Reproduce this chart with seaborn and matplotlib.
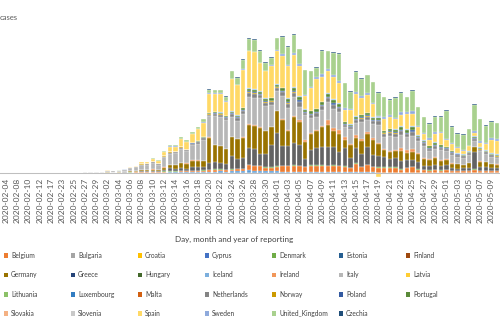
import numpy as np
import pandas as pd
import matplotlib
matplotlib.use("Agg")
import matplotlib.pyplot as plt
from matplotlib.patches import Patch
import seaborn as sns

# ---------------- categories ----------------
early_dates = ["2020-02-04", "2020-02-06", "2020-02-08", "2020-02-09", "2020-02-10",
               "2020-02-11", "2020-02-12", "2020-02-14", "2020-02-17", "2020-02-20"]
dates = early_dates + [d.strftime("%Y-%m-%d") for d in pd.date_range("2020-02-23", "2020-05-10")]

# ---------------- daily cases per country ----------------
austria = [0,0,0,0,0,0,0,0,0,0,0,0,0,2,3,5,5,4,8,6,10,20,
           90,90,90,120,120,120,150,180,240,300,300,360,300,360,450,450,540,450,600,540,600,900,750,750,600,540,540,450,450,450,300,300,300,300,300,240,240,240,240,180,240,210,210,180,150,150,150,150,150,120,120,90,90,90,90,90,90,60,60,60,60,90,60,60,60,60]
belgium = [0,0,0,0,0,0,0,0,0,0,0,0,0,0,0,0,0,2,6,5,10,20,
           60,90,90,120,120,90,180,240,180,240,180,240,300,360,450,540,450,450,450,540,600,1500,1350,1350,1050,1050,1350,1650,1650,1800,1800,1500,1950,1950,1950,1800,1950,1800,1650,1200,2550,1650,2100,1650,1500,1500,1500,1500,900,1350,1650,900,750,600,750,600,750,600,450,450,450,900,600,450,450,450]
denmark = [0,0,0,0,0,0,0,0,0,0,0,0,0,0,0,1,0,2,1,5,4,3,
           10,5,20,25,30,60,250,150,60,150,90,120,90,120,90,90,90,90,90,90,90,150,150,120,120,120,150,150,150,150,120,90,90,90,120,120,120,120,
           90,90,90,90,90,90,90,90,90,90,90,90,90,90,90,90,90,90,90,90,90,90,90,90,90,90,90,90]
france = [0,1,0,1,0,0,0,0,0,0,0,0,2,2,20,40,40,30,100,50,80,130,
          180,210,300,300,360,300,450,840,840,900,750,1200,1050,1050,2100,2100,1950,1800,3900,3000,3300,5100,5100,3600,3900,6600,9900,6000,6000,6600,6300,2400,4500,5100,5400,5700,5400,4200,5400,3000,4500,3900,5400,3600,3300,3000,2400,2700,2400,2400,2100,2100,1200,1200,1500,1200,1500,900,600,900,900,5100,1200,1200,900,900]
germany = [2,0,0,1,0,1,0,0,0,0,0,0,2,10,30,30,50,50,60,40,60,100,
           180,210,360,300,420,300,600,1050,1200,1350,1500,1800,1950,1650,7500,5100,5100,4350,5700,6000,6000,6900,6900,7800,6900,5400,6600,7800,4500,7800,6900,5100,4950,5100,6000,6600,4800,5400,2400,3900,3000,3900,3900,4500,3600,2100,2100,2100,3000,2100,2400,2400,1950,1950,2100,1500,1500,1200,1500,900,1500,1500,1500,1500,1200,1050]
ireland = [0,0,0,0,0,0,0,0,0,0,0,0,0,0,0,0,0,0,0,0,0,1,
           5,5,10,10,20,10,30,40,30,60,60,90,120,90,120,120,120,120,120,120,150,210,210,210,180,180,210,300,300,300,600,450,240,450,300,1350,900,1050,900,300,900,450,600,450,450,450,360,360,900,900,900,450,300,300,300,300,240,240,150,150,150,150,150,150,150,150]
italy = [0,0,0,0,0,0,0,0,0,0,60,80,95,90,130,200,240,300,560,400,460,650,
         900,1050,1500,1650,1950,1650,3000,3300,3450,4200,3600,4500,4950,6300,6300,8700,8700,8700,6000,5400,6900,8100,8100,8700,7500,6600,6000,6900,6600,5700,3900,7500,4350,3900,4950,5400,5700,5400,3000,4500,3600,5100,3600,4200,5400,3600,4500,3900,3900,3900,3900,3600,3750,2400,2400,3000,2400,2400,2100,2100,2400,1800,3000,2400,2100,1950]
netherlands = [0,0,0,0,0,0,0,0,0,0,0,0,0,0,0,0,0,5,10,10,20,40,
               90,90,180,150,180,180,210,300,240,390,300,360,450,450,540,600,600,600,750,750,900,1200,1200,750,900,900,900,1050,1200,1350,1350,600,1050,1050,1050,1200,1200,1200,750,600,1050,1050,1050,900,1050,900,1050,1050,1200,900,1200,750,750,600,900,750,600,450,450,360,360,600,450,360,360,300]
norway = [0,0,0,0,0,0,0,0,0,0,0,0,0,0,0,0,0,0,5,5,10,20,
          30,30,90,90,90,60,90,90,60,90,120,150,150,180,150,120,120,90,150,150,150,210,210,150,150,120,120,150,150,150,150,90,120,120,120,120,150,150,120,90,120,120,120,120,90,90,90,90,90,90,90,60,
          60,60,60,60,60,60,60,60,60,60,60,60,60,60]
poland = [0,0,0,0,0,0,0,0,0,0,0,0,0,0,0,0,0,0,0,0,0,0,
          0,0,1,5,5,10,20,15,25,20,30,60,90,90,120,120,120,120,150,150,180,240,240,180,180,180,180,240,300,300,360,240,240,300,300,360,450,360,240,180,300,300,300,300,300,240,300,300,360,300,360,240,240,240,300,240,180,180,150,150,150,240,180,180,180,180]
portugal = [0,0,0,0,0,0,0,0,0,0,0,0,0,0,0,0,0,0,0,0,0,0,
            0,0,0,2,5,8,30,60,60,90,90,120,150,180,240,300,300,300,450,450,600,750,750,750,750,750,600,750,900,900,900,750,750,750,750,900,900,900,450,450,600,600,600,600,600,450,600,750,900,750,900,450,450,450,600,450,360,300,240,240,240,360,300,240,240,240]
romania = [0,0,0,0,0,0,0,0,0,0,0,0,0,0,0,0,0,0,0,0,0,0,
           0,0,0,0,2,5,10,15,20,30,30,40,50,60,90,90,90,90,120,120,150,180,180,150,150,150,150,210,240,300,300,120,150,180,210,240,300,300,150,120,210,180,180,180,180,180,180,180,300,240,300,210,180,150,240,180,150,150,120,120,120,150,150,150,150,150]
spain = [0,0,0,0,0,0,0,0,0,0,0,0,2,6,10,20,30,20,40,60,60,60,
         240,270,510,450,750,750,1200,1650,1500,2250,2250,2550,3450,4200,5700,5400,5550,4200,9600,9000,11400,11100,11100,8400,8100,9600,9900,9600,9600,9600,9000,3900,6900,9000,7500,6600,6600,6000,3600,4350,6600,5100,5400,3900,-1200,3600,3600,3000,3300,4500,3600,2400,1950,1650,2250,3600,2100,2100,1500,1050,1500,900,1200,1950,3900,3900]
sweden = [0,0,0,0,0,0,0,0,0,0,0,0,0,0,0,0,0,0,5,5,10,20,
          60,60,60,60,120,90,150,180,180,150,120,150,150,150,150,150,150,150,150,150,180,210,210,210,210,210,240,450,360,750,600,450,360,600,900,450,600,600,450,390,600,360,450,360,390,450,360,450,750,600,900,300,300,750,750,300,300,240,240,210,240,750,600,240,600,600]
united_kingdom = [0,0,0,0,0,0,0,0,0,0,0,0,0,0,0,0,0,0,20,10,30,30,
                  60,90,120,150,180,150,240,300,360,450,450,540,600,900,1050,900,900,1350,2250,2160,2850,3450,3600,3600,2400,2250,3600,5250,5400,5400,4500,7320,4650,2760,6900,5400,6750,8100,7500,5100,6000,5250,5310,6210,7050,5940,4770,5940,5910,4500,6240,5700,4680,4290,4620,4500,8430,4980,4050,4710,4890,7800,6600,5220,5010,4800]
czechia = [0,0,0,0,0,0,0,0,0,0,0,0,0,0,0,0,0,0,0,0,0,0,
           0,5,10,10,15,10,20,30,40,90,90,150,90,120,150,120,120,240,120,90,150,300,150,180,210,150,210,150,300,150,120,90,150,150,150,120,240,180,90,150,
           150,150,150,150,150,150,150,150,150,150,150,150,150,150,150,150,150,150,150,150,150,150,150,150,150,120]

# stacking order (bottom -> top), as in the source chart
series = {
    "Austria": austria, "Belgium": belgium, "Denmark": denmark, "France": france,
    "Germany": germany, "Ireland": ireland, "Italy": italy, "Netherlands": netherlands,
    "Norway": norway, "Poland": poland, "Portugal": portugal, "Romania": romania,
    "Spain": spain, "Sweden": sweden, "United_Kingdom": united_kingdom, "Czechia": czechia,
}
for k, v in series.items():
    if len(v) != len(dates):
        raise ValueError(f"{k}: {len(v)} values, expected {len(dates)}")

legend_names = ["Belgium", "Bulgaria", "Croatia", "Cyprus", "Denmark", "Estonia", "Finland",
                "Germany", "Greece", "Hungary", "Iceland", "Ireland", "Italy", "Latvia",
                "Lithuania", "Luxembourg", "Malta", "Netherlands", "Norway", "Poland", "Portugal",
                "Slovakia", "Slovenia", "Spain", "Sweden", "United_Kingdom", "Czechia"]

colors = {
    "Austria": "#5B9BD5", "Belgium": "#ED7D31", "Bulgaria": "#A5A5A5", "Croatia": "#FFC000",
    "Cyprus": "#4472C4", "Denmark": "#70AD47", "Estonia": "#255E91", "Finland": "#9E480E",
    "France": "#636363", "Germany": "#997300", "Greece": "#264478", "Hungary": "#43682B",
    "Iceland": "#7CAFDD", "Ireland": "#F1975A", "Italy": "#B7B7B7", "Latvia": "#FFCD33",
    "Lithuania": "#8CC168", "Luxembourg": "#327DC2", "Malta": "#D26012", "Netherlands": "#848484",
    "Norway": "#CC9A00", "Poland": "#335AA1", "Portugal": "#5A8A39", "Romania": "#9DC3E6",
    "Slovakia": "#F4B183", "Slovenia": "#C9C9C9", "Spain": "#FFD966", "Sweden": "#8FAADC",
    "United_Kingdom": "#A9D18E", "Czechia": "#1F4E79",
}

# ---------------- style ----------------
sns.set_theme(style="white")
plt.rcParams["font.family"] = ["Lato", "DejaVu Sans"]
text_col = "#595959"

W, H = 500, 327
fig = plt.figure(figsize=(W / 100, H / 100), dpi=100)
ax_bottom_px, ax_top_px = 178, 20
ax = fig.add_axes([0, 1 - ax_bottom_px / H, 1, (ax_bottom_px - ax_top_px) / H])

df = pd.DataFrame(series, index=dates)
pos_cum = df.clip(lower=0).cumsum(axis=1)
neg_cum = df.clip(upper=0).cumsum(axis=1)

names = list(series.keys())
for name in reversed(names):
    sns.barplot(x=dates, y=pos_cum[name].values, color=colors[name], saturation=1,
                width=0.78, edgecolor="white", linewidth=0.25, ax=ax)
for name in reversed(names):
    if (df[name] < 0).any():
        sns.barplot(x=dates, y=neg_cum[name].values, color=colors[name], saturation=1,
                    width=0.78, edgecolor="white", linewidth=0.25, ax=ax)

# scales
px_per_unit = 300.0
ax.set_xlim(-6 / 5.65, (W - 6) / 5.65)
ax.set_ylim(-(ax_bottom_px - 173) * px_per_unit, (173 - ax_top_px) * px_per_unit)

# axes styling
for s in ["top", "right", "left"]:
    ax.spines[s].set_visible(False)
ax.spines["bottom"].set_position(("data", 0))
ax.spines["bottom"].set_color("#BFBFBF")
ax.spines["bottom"].set_linewidth(0.75)
ax.set_yticks([])

ax.set_xticks(range(0, len(dates), 2))
ax.set_xticklabels(dates[::2], rotation=90, fontsize=6, color=text_col)
ax.set_xticks(np.arange(-0.5, len(dates), 1), minor=True)
ax.tick_params(axis="x", which="major", length=0, pad=3.5)
ax.tick_params(axis="x", which="minor", length=3, width=0.6, color="#BFBFBF", direction="out")

ax.set_xlabel("Day, month and year of reporting", fontsize=5.8, color="#404040")
ax.xaxis.label.set_va("center")
ax.xaxis.set_label_coords(234 / W, (ax_bottom_px - 239) / (ax_bottom_px - ax_top_px))

ax.set_ylabel("cases", rotation=0, fontsize=5.5, color=text_col, ha="left", va="center")
ax.yaxis.set_label_coords(0.0, (ax_bottom_px - 17) / (ax_bottom_px - ax_top_px))

# legend: 7 equal-width columns, 4 rows
col_x = [4, 71, 138, 205, 272, 339, 406]
for c in range(7):
    hs = [Patch(facecolor=colors[legend_names[i]], edgecolor="none", label=legend_names[i])
          for i in range(c, len(legend_names), 7)]
    fig.legend(handles=hs, loc="upper left", bbox_to_anchor=(col_x[c] / W, 1 - 252 / H),
               frameon=False, fontsize=4.8, handlelength=0.65, handleheight=0.65,
               handletextpad=0.4, labelspacing=1.85, borderpad=0, borderaxespad=0,
               labelcolor="#404040")

fig.savefig("out.png", dpi=100)
